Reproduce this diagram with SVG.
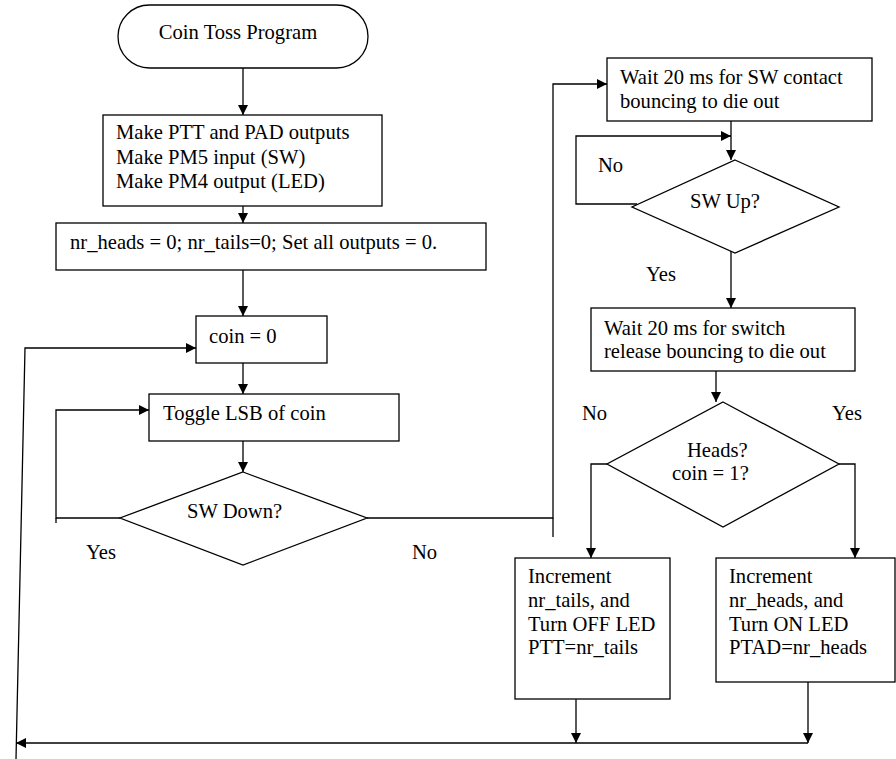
<svg xmlns="http://www.w3.org/2000/svg" width="896" height="759" viewBox="0 0 896 759">
<defs>
<marker id="arr" markerUnits="userSpaceOnUse" markerWidth="10" markerHeight="10" viewBox="0 0 10 10" refX="10" refY="5" orient="auto">
<path d="M0,0 L10,5 L0,10 z" fill="#000"/>
</marker>
<style>
.s{fill:#fff;stroke:#000;stroke-width:1.3}
.c{fill:none;stroke:#000;stroke-width:1.3}
.a{marker-end:url(#arr)}
text{font-family:"Liberation Serif","Times New Roman",serif;font-size:20.6px;fill:#000}
</style>
</defs>
<rect width="896" height="759" fill="#fff"/>
<g id="connectors">
<path class="c a" d="M243,68 V115"/>
<path class="c a" d="M243,204 V223"/>
<path class="c a" d="M243,270 V316"/>
<path class="c a" d="M243,363 V394"/>
<path class="c a" d="M243,441 V472"/>
<path class="c a" d="M120,518 H56 V410 H149"/>
<path class="c" d="M56,518 V523"/>
<path class="c a" d="M367,518 H553 V84 H607"/>
<path class="c" d="M553,518 V537"/>
<path class="c a" d="M731,121 V160"/>
<path class="c a" d="M637,204 H576 V136 H731"/>
<path class="c a" d="M731,247 V308"/>
<path class="c a" d="M716,371 V402"/>
<path class="c a" d="M607,464 H591 V558"/>
<path class="c a" d="M839,464 H855 V558"/>
<path class="c a" d="M576,693 V743"/>
<path class="c a" d="M808,682 V743"/>
<path class="c a" d="M808,743 H16"/>
<path class="c a" d="M16,759 L25,348 H196"/>
</g>
<g id="start">
<rect class="s" x="118" y="5" width="250" height="63" rx="31.5"/>
<text x="238" y="39" text-anchor="middle">Coin Toss Program</text>
</g>
<g id="init-ports">
<rect class="s" x="103" y="115" width="279" height="91"/>
<text x="116" y="139">Make PTT and PAD outputs</text>
<text x="116" y="163.5">Make PM5 input (SW)</text>
<text x="116" y="188">Make PM4 output (LED)</text>
</g>
<g id="init-vars">
<rect class="s" x="56" y="223" width="430" height="47"/>
<text x="70" y="249">nr_heads = 0; nr_tails=0; Set all outputs = 0.</text>
</g>
<g id="coin-zero">
<rect class="s" x="196" y="316" width="131" height="47"/>
<text x="209" y="343">coin = 0</text>
</g>
<g id="toggle">
<rect class="s" x="149" y="394" width="250" height="47"/>
<text x="163" y="420">Toggle LSB of coin</text>
</g>
<g id="sw-down">
<polygon class="s" points="243,472 367,518 243,565 120,518"/>
<text x="187" y="518">SW Down?</text>
<text x="86" y="559">Yes</text>
<text x="412" y="559">No</text>
</g>
<g id="wait-press">
<rect class="s" x="607" y="58" width="265" height="63"/>
<text x="620" y="84">Wait 20 ms for SW contact</text>
<text x="620" y="108">bouncing to die out</text>
</g>
<g id="sw-up">
<polygon class="s" points="735,160 839,207 735,253 632,207"/>
<text x="690" y="208">SW Up?</text>
<text x="598" y="172">No</text>
<text x="646" y="281">Yes</text>
</g>
<g id="wait-release">
<rect class="s" x="591" y="308" width="264" height="63"/>
<text x="604" y="335">Wait 20 ms for switch</text>
<text x="604" y="358">release bouncing to die out</text>
</g>
<g id="heads">
<polygon class="s" points="723,402 839,464 723,527 607,464"/>
<text x="687" y="457">Heads?</text>
<text x="672" y="480">coin = 1?</text>
<text x="582" y="420">No</text>
<text x="832" y="420">Yes</text>
</g>
<g id="tails-box">
<rect class="s" x="515" y="558" width="155" height="141"/>
<text x="528" y="583">Increment</text>
<text x="528" y="607">nr_tails, and</text>
<text x="528" y="631">Turn OFF LED</text>
<text x="528" y="654">PTT=nr_tails</text>
</g>
<g id="heads-box">
<rect class="s" x="716" y="558" width="179" height="124"/>
<text x="729" y="583">Increment</text>
<text x="729" y="607">nr_heads, and</text>
<text x="729" y="631">Turn ON LED</text>
<text x="729" y="654">PTAD=nr_heads</text>
</g>
</svg>
